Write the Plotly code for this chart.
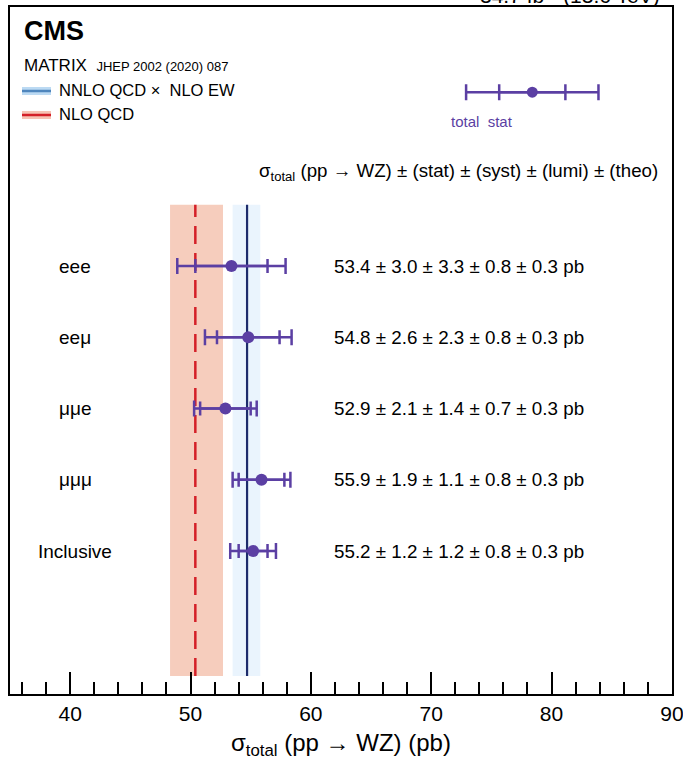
import plotly.graph_objects as go

# ---- data ----
channels = ["eee", "eeμ", "μμe", "μμμ", "Inclusive"]
rows = [5, 4, 3, 2, 1]
xsec = [53.4, 54.8, 52.9, 55.9, 55.2]
stat = [3.0, 2.6, 2.1, 1.9, 1.2]
syst = [3.3, 2.3, 1.4, 1.1, 1.2]
lumi = [0.8, 0.8, 0.7, 0.8, 0.8]
theo = [0.3, 0.3, 0.3, 0.3, 0.3]
total = [4.5, 3.6, 2.6, 2.4, 1.9]

nnlo_center, nnlo_lo, nnlo_hi = 54.7, 53.5, 55.8
nlo_center, nlo_lo, nlo_hi = 50.4, 48.3, 52.7

legend_x, legend_stat, legend_total = 78.4, 2.75, 5.5
x_range = [35, 90.01]
y_range = [-1.007, 8.635]

PURPLE = "#5b3fa3"
FONT = "Liberation Sans, Arial, sans-serif"

W, H = 683, 762
L, R, T, B = 10, 11, 7, 68
pw, ph = W - L - R, H - T - B


def px_x(p):
    return (p - L) / pw


def px_y(p):
    return (H - B - p) / ph


fig = go.Figure()

# bands
band_top, band_bot = 5.86, -0.754
fig.add_shape(type="rect", xref="x", yref="y", x0=nlo_lo, x1=nlo_hi, y0=band_bot, y1=band_top,
              fillcolor="#f6cdbd", line_width=0, layer="below")
fig.add_shape(type="rect", xref="x", yref="y", x0=nnlo_lo, x1=nnlo_hi, y0=band_bot, y1=band_top,
              fillcolor="#eaf4fd", line_width=0, layer="below")
fig.add_shape(type="line", xref="x", yref="y", x0=nlo_center, x1=nlo_center, y0=band_bot, y1=band_top,
              line=dict(color="#d42028", width=2.5, dash="18px,9px"), layer="below")
fig.add_shape(type="line", xref="x", yref="y", x0=nnlo_center, x1=nnlo_center, y0=band_bot, y1=band_top,
              line=dict(color="#1d2b6b", width=2.2), layer="below")

# total error bars
fig.add_trace(go.Scatter(
    x=xsec, y=rows, mode="markers", marker=dict(size=1, color="rgba(0,0,0,0)"),
    error_x=dict(type="data", array=total, color=PURPLE, thickness=2.5, width=8),
    showlegend=False, hoverinfo="skip"))
# stat error bars + points
fig.add_trace(go.Scatter(
    x=xsec, y=rows, mode="markers", marker=dict(size=12, color=PURPLE),
    error_x=dict(type="data", array=stat, color=PURPLE, thickness=2.5, width=7),
    showlegend=False))

# legend example error bar
fig.add_trace(go.Scatter(
    x=[legend_x], y=[7.44], mode="markers", marker=dict(size=1, color="rgba(0,0,0,0)"),
    error_x=dict(type="data", array=[legend_total], color=PURPLE, thickness=2.5, width=8),
    showlegend=False, hoverinfo="skip"))
fig.add_trace(go.Scatter(
    x=[legend_x], y=[7.44], mode="markers", marker=dict(size=11, color=PURPLE),
    error_x=dict(type="data", array=[legend_stat], color=PURPLE, thickness=2.5, width=8),
    showlegend=False, hoverinfo="skip"))

ann = []
ann.append(dict(x=px_x(482), y=px_y(122), xref="paper", yref="paper", xanchor="center", yanchor="middle",
                text="total  stat", showarrow=False, font=dict(size=15, color=PURPLE, family=FONT)))

# channel labels and values
for ch, r, v, s1, s2, s3, s4 in zip(channels, rows, xsec, stat, syst, lumi, theo):
    ann.append(dict(x=px_x(75), y=r, xref="paper", yref="y", xanchor="center", yanchor="middle",
                    text=ch, showarrow=False, font=dict(size=19, color="black", family=FONT)))
    ann.append(dict(x=px_x(332), y=r, xref="paper", yref="y", xanchor="left", yanchor="middle",
                    text=f"{v:.1f} ± {s1:.1f} ± {s2:.1f} ± {s3:.1f} ± {s4:.1f} pb", showarrow=False,
                    font=dict(size=18.8, color="black", family=FONT)))

ann.append(dict(x=px_x(660), y=px_y(172), xref="paper", yref="paper", xanchor="right", yanchor="middle",
                text="σ<sub>total</sub> (pp → WZ) ± (stat) ± (syst) ± (lumi) ± (theo)", showarrow=False,
                font=dict(size=18.7, color="black", family=FONT)))

# header texts
ann.append(dict(x=px_x(22), y=px_y(31), xref="paper", yref="paper", xanchor="left", yanchor="middle",
                text="<b>CMS</b>", showarrow=False, font=dict(size=27, color="black", family=FONT)))
ann.append(dict(x=px_x(22), y=px_y(65), xref="paper", yref="paper", xanchor="left", yanchor="middle",
                text="MATRIX  <span style='font-size:13px'>JHEP 2002 (2020) 087</span>", showarrow=False,
                font=dict(size=17, color="black", family=FONT)))
ann.append(dict(x=px_x(57), y=px_y(90), xref="paper", yref="paper", xanchor="left", yanchor="middle",
                text="NNLO QCD ×  NLO EW", showarrow=False, font=dict(size=16.5, color="black", family=FONT)))
ann.append(dict(x=px_x(57), y=px_y(114), xref="paper", yref="paper", xanchor="left", yanchor="middle",
                text="NLO QCD", showarrow=False, font=dict(size=16.5, color="black", family=FONT)))
ann.append(dict(x=px_x(662), y=px_y(9), xref="paper", yref="paper", xanchor="right", yanchor="bottom",
                text="34.7 fb<sup>-1</sup> (13.6 TeV)", showarrow=False,
                font=dict(size=21, color="black", family=FONT)))

# legend swatches
for yc, band, line in [(91, "#bcdaf3", "#4f86bd"), (115, "#f6c3b4", "#d42028")]:
    fig.add_shape(type="rect", xref="paper", yref="paper", x0=px_x(22), x1=px_x(51),
                  y0=px_y(yc + 4), y1=px_y(yc - 4), fillcolor=band, line_width=0)
    fig.add_shape(type="line", xref="paper", yref="paper", x0=px_x(22), x1=px_x(51),
                  y0=px_y(yc), y1=px_y(yc), line=dict(color=line, width=2.5))

fig.update_layout(
    width=W, height=H, margin=dict(l=L, r=R, t=T, b=B, autoexpand=False),
    paper_bgcolor="white", plot_bgcolor="white",
    annotations=ann, showlegend=False,
    font=dict(family=FONT, color="black"),
)
fig.update_xaxes(range=x_range, showgrid=False, zeroline=False, automargin=False,
                 showline=True, mirror=True, linecolor="black", linewidth=1.5,
                 ticks="inside", ticklen=22, tickwidth=1.5, tickcolor="black", dtick=10, tick0=0,
                 minor=dict(ticks="inside", ticklen=12, dtick=2, tick0=0, tickwidth=1.5, tickcolor="black"),
                 tickfont=dict(size=21, family=FONT), ticklabeloverflow="allow",
                 title=dict(text="σ<sub>total</sub> (pp → WZ) (pb)", font=dict(size=24, family=FONT), standoff=10))
fig.update_yaxes(range=y_range, showgrid=False, zeroline=False, showticklabels=False, automargin=False,
                 showline=True, mirror=True, linecolor="black", linewidth=1.5, ticks="")

fig.write_html("out.html")
